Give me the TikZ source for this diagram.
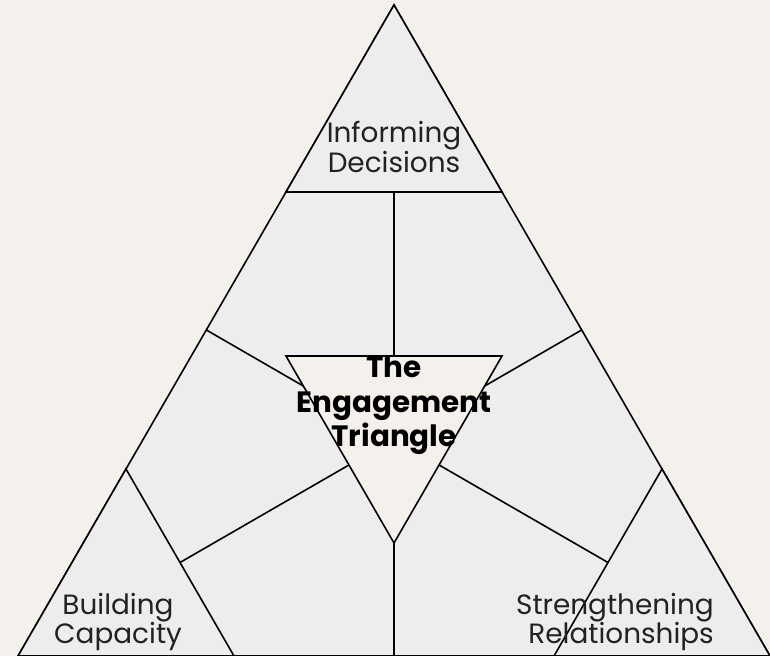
\documentclass[tikz,border=0pt]{standalone}
\usepackage{fontspec}
\setmainfont{Poppins}
\definecolor{paper}{RGB}{244,241,236}
\definecolor{panel}{RGB}{237,237,237}
\definecolor{ink}{RGB}{34,34,34}
\tikzset{
 edge/.style={draw=black, line width=1.6pt, line join=miter},
 panelfill/.style={edge, fill=panel},
 holefill/.style={edge, fill=paper},
 areatext/.style={align=center, text=ink, inner sep=0pt, font=\fontsize{28}{30}\selectfont},
 maintext/.style={align=center, text=black, inner sep=0pt, font=\bfseries\fontsize{29.5}{34.5}\selectfont}
}

\begin{document}
\begin{tikzpicture}[x=1bp, y=-1bp]
\fill[paper] (0,0) rectangle (770,656);
\useasboundingbox (0,0) rectangle (770,656);

% outer triangle and its corners
\coordinate (apex) at (394,5);
\coordinate (left) at (18,656);
\coordinate (right) at (770,656);
\filldraw[panelfill] (apex) -- (left) -- (right) -- cycle;

% spokes between the corner pieces and the centre
\coordinate (topbase) at (394,192);
\coordinate (holetop) at (394,356);
\coordinate (holetip) at (394,543);
\coordinate (bottom) at (394,656);
\draw[edge] (topbase) -- (holetop);
\draw[edge] (holetip) -- (bottom);
\draw[edge] (206.4,330) -- (303.3,386);
\draw[edge] (581.6,330) -- (484.7,386);
\draw[edge] (348.9,465) -- (180,562.5);
\draw[edge] (439.1,465) -- (608,562.5);

% corner triangles
\filldraw[panelfill] (apex) -- (286,192) -- (502,192) -- cycle;
\filldraw[panelfill] (left) -- (126,469) -- (234,656) -- cycle;
\filldraw[panelfill] (right) -- (662,469) -- (554,656) -- cycle;

% inverted triangle in the middle
\filldraw[holefill] (286,356) -- (502,356) -- (holetip) -- cycle;

\node[areatext] (inform) at (394,147) {Informing\\Decisions};
\node[areatext] (capacity) at (118,622) {Building\\Capacity};
\node[areatext, align=right, anchor=east] (relations) at (714,622) {Strengthening\\Relationships};
\node[maintext] (engage) at (394,405.5) {The\\Engagement\\Triangle};
\end{tikzpicture}
\end{document}
